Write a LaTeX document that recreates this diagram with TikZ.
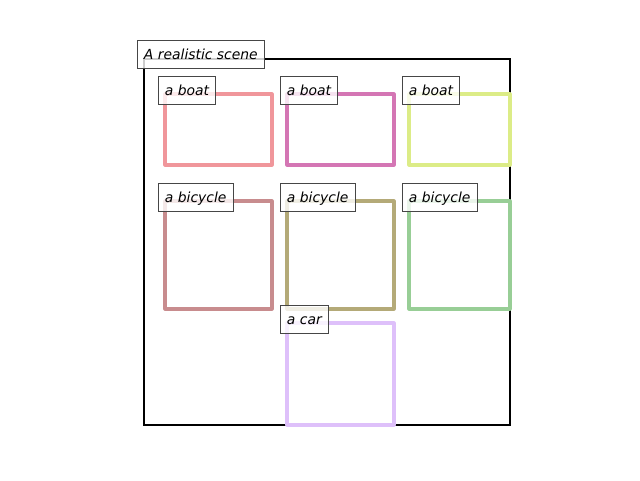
\documentclass[tikz,border=0pt]{standalone}
\usepackage{fontspec}
\setmainfont{DejaVu Sans}
\definecolor{cboatA}{RGB}{240,150,155}
\definecolor{cboatB}{RGB}{212,118,180}
\definecolor{cboatC}{RGB}{220,236,135}
\definecolor{cbikeA}{RGB}{200,140,142}
\definecolor{cbikeB}{RGB}{180,170,120}
\definecolor{cbikeC}{RGB}{152,206,150}
\definecolor{ccar}{RGB}{222,192,250}
\definecolor{lblborder}{RGB}{70,70,70}
\tikzset{
  frame/.style={draw=black, line width=2.6pt},
  bbox/.style={line width=3.1pt, line join=round},
  lbl/.style={draw=lblborder, line width=0.9pt, fill=white, fill opacity=0.8, text opacity=1,
    anchor=west, inner xsep=6.5pt, inner ysep=0pt, minimum height=28pt,
    text height=12pt, text depth=2pt,
    font=\fontsize{13.9}{16}\selectfont\itshape}
}
\begin{document}
\begin{tikzpicture}[x=1pt,y=-1pt]
\useasboundingbox (0,0) rectangle (640,480);
\draw[frame] (144,59) rectangle (510,425);
\draw[bbox, cboatA] (165,94) rectangle (272,165);
\draw[bbox, cboatB] (287,94) rectangle (394,165);
\draw[bbox, cboatC] (409,94) rectangle (510,165);
\draw[bbox, cbikeA] (165,201) rectangle (272,309);
\draw[bbox, cbikeB] (287,201) rectangle (394,309);
\draw[bbox, cbikeC] (409,201) rectangle (510,309);
\draw[bbox, ccar] (287,323) rectangle (394,425);
\node[lbl] (title) at (137,54) {A realistic scene};
\node[lbl] (boatA) at (158,90) {a boat};
\node[lbl] (boatB) at (280,90) {a boat};
\node[lbl] (boatC) at (402,90) {a boat};
\node[lbl] (bikeA) at (158,197) {a bicycle};
\node[lbl] (bikeB) at (280,197) {a bicycle};
\node[lbl] (bikeC) at (402,197) {a bicycle};
\node[lbl] (car) at (280,319) {a car};
\end{tikzpicture}
\end{document}
